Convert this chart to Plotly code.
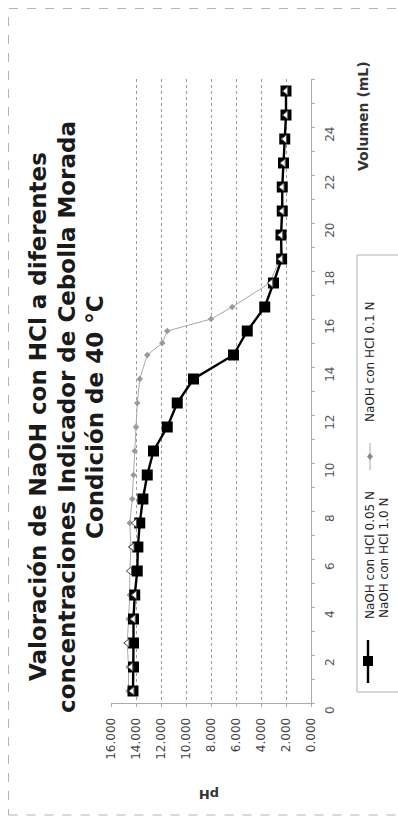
import plotly.graph_objects as go

# ---------------- data ----------------
volumen_ml = list(range(26))
ph_hcl_005 = [14.24, 14.20, 14.20, 14.20, 14.10, 13.90, 13.85, 13.70, 13.45, 13.10,
              12.60, 11.50, 10.70, 9.40, 6.20, 5.10, 3.70, 3.00, 2.35, 2.40,
              2.30, 2.30, 2.20, 2.10, 2.00, 2.00]

volumen_01 = [0, 1, 2, 3, 4, 5, 6, 7, 8, 9, 10, 11, 12, 13, 14, 14.5, 15, 15.5, 16, 17,
              18, 19, 20, 21, 22, 23, 24, 25]
ph_hcl_01 = [14.60, 14.60, 14.70, 14.60, 14.50, 14.50, 14.40, 14.50, 14.30, 14.20,
             14.10, 14.00, 13.90, 13.70, 13.10, 11.90, 11.50, 8.00, 6.30, 3.30,
             2.50, 2.40, 2.40, 2.30, 2.20, 2.10, 2.00, 2.00]

ph_hcl_10 = [14.30, 14.40, 14.70, 14.20, 14.10, 14.50, 14.30, 14.10, None, None,
             None, None, None, None, None, None, None, 3.20, 2.40, 2.40,
             2.30, 2.30, 2.20, 2.10, 2.00, 2.00]

vol_tick_vals = list(range(0, 25, 2))
ph_tick_vals = list(range(0, 17, 2))

series_names = ["NaOH con HCl 0.05 N", "NaOH con HCl 0.1 N", "NaOH con HCl 1.0 N"]
title_lines = ["Valoración de NaOH con HCl a diferentes",
               "concentraciones Indicador de Cebolla Morada",
               "Condición de 40 °C"]

# ---------------- layout geometry (window pixels) ----------------
W, H = 398, 824
L, R, T, B = 111, 311, 79, 703


def px(x):
    return (x - L) / (R - L)


def py(y):
    return (B - y) / (B - T)


FONT = "DejaVu Sans"

fig = go.Figure()

fig.add_trace(go.Scatter(
    x=ph_hcl_01, y=volumen_01, mode="lines+markers", name=series_names[1],
    line=dict(color="#a8a8a8", width=1),
    marker=dict(symbol="diamond", size=5, color="#9a9a9a"),
    cliponaxis=False,
))
fig.add_trace(go.Scatter(
    x=ph_hcl_005, y=volumen_ml, mode="lines+markers", name=series_names[0],
    line=dict(color="#000000", width=2.4),
    marker=dict(symbol="square", size=11, color="#000000"),
    cliponaxis=False,
))
fig.add_trace(go.Scatter(
    x=ph_hcl_10, y=volumen_ml, mode="markers", name=series_names[2],
    marker=dict(symbol="triangle-left", size=7, color="#ffffff",
                line=dict(color="#555555", width=1)),
    cliponaxis=False,
))

fig.update_layout(
    width=W, height=H, autosize=False,
    margin=dict(l=L, r=W - R, t=T, b=H - B, pad=0),
    paper_bgcolor="white", plot_bgcolor="white",
    showlegend=False,
    font=dict(family=FONT, color="#222222"),
)

fig.update_xaxes(
    range=[16, 0], tickvals=ph_tick_vals, tickformat=".3f", tickangle=-90,
    tickfont=dict(family=FONT, size=12, color="#444444"),
    showgrid=True, gridcolor="#9a9a9a", griddash="dot", gridwidth=1,
    showline=True, linecolor="#aaaaaa", linewidth=1,
    ticks="outside", ticklen=3, tickcolor="#aaaaaa",
    zeroline=False, ticklabelstandoff=6, automargin=False,
)
fig.update_yaxes(
    range=[-0.5, 25.5], side="right", tickvals=vol_tick_vals, tickangle=-90,
    tickfont=dict(family=FONT, size=12, color="#555555"),
    showgrid=False, zeroline=False,
    showline=True, linecolor="#aaaaaa", linewidth=1,
    ticks="", ticklabelshift=21, ticklabelstandoff=8, automargin=False,
    minor=dict(tick0=-0.5, dtick=1, ticks="outside", ticklen=3, tickcolor="#aaaaaa"),
)

ann = []
# title (three rotated lines)
for xpix, text in zip([38, 67, 95], title_lines):
    ann.append(dict(x=px(xpix), y=py(417), xref="paper", yref="paper", text=text,
                    showarrow=False, textangle=-90, xanchor="center", yanchor="middle",
                    font=dict(family=FONT, size=23, color="#1a1a1a", weight="bold")))
# axis titles
ann.append(dict(x=px(363), y=py(116), xref="paper", yref="paper", text="Volumen (mL)",
                showarrow=False, textangle=-90, xanchor="center", yanchor="middle",
                font=dict(family=FONT, size=14, color="#333333", weight="bold")))
ann.append(dict(x=px(209), y=py(795), xref="paper", yref="paper", text="pH",
                showarrow=False, textangle=180, xanchor="center", yanchor="middle",
                font=dict(family=FONT, size=13, color="#333333", weight="bold")))
# legend texts
ann.append(dict(x=px(370), y=py(555), xref="paper", yref="paper", text=series_names[0],
                showarrow=False, textangle=-90, xanchor="center", yanchor="middle",
                font=dict(family=FONT, size=12, color="#222222")))
ann.append(dict(x=px(370), y=py(362), xref="paper", yref="paper", text=series_names[1],
                showarrow=False, textangle=-90, xanchor="center", yanchor="middle",
                font=dict(family=FONT, size=12, color="#222222")))
ann.append(dict(x=px(384), y=py(558), xref="paper", yref="paper", text=series_names[2],
                showarrow=False, textangle=-90, xanchor="center", yanchor="middle",
                font=dict(family=FONT, size=12, color="#222222")))
fig.update_layout(annotations=ann)

shapes = []
# outer dashed border
shapes.append(dict(type="rect", xref="paper", yref="paper",
                   x0=px(8.5), x1=px(420), y0=py(815), y1=py(8.5),
                   line=dict(color="#b5b5b5", width=1, dash="dash")))
# legend box
shapes.append(dict(type="rect", xref="paper", yref="paper",
                   x0=px(357), x1=px(420), y0=py(692), y1=py(255),
                   line=dict(color="#b0b0b0", width=1)))
# legend sample: black line + square
shapes.append(dict(type="line", xref="paper", yref="paper",
                   x0=px(368), x1=px(368), y0=py(683), y1=py(640),
                   line=dict(color="black", width=2.4)))
shapes.append(dict(type="rect", xref="paper", yref="paper",
                   x0=px(363), x1=px(373), y0=py(666), y1=py(656),
                   fillcolor="black", line=dict(color="black", width=0)))
# legend sample: grey line + diamond
shapes.append(dict(type="line", xref="paper", yref="paper",
                   x0=px(370), x1=px(370), y0=py(470), y1=py(443),
                   line=dict(color="#a8a8a8", width=1)))
shapes.append(dict(type="path", xref="paper", yref="paper",
                   path=f"M {px(370)},{py(453)} L {px(373)},{py(456.5)} L {px(370)},{py(460)} L {px(367)},{py(456.5)} Z",
                   fillcolor="#8a8a8a", line=dict(color="#8a8a8a", width=0)))
fig.update_layout(shapes=shapes)

# the page's default 8 px body margin would shift the figure; remove it
fig.write_html("out.html",
               config={"displayModeBar": False},
               post_script="document.body.style.margin='0px';document.body.style.overflow='hidden';")
